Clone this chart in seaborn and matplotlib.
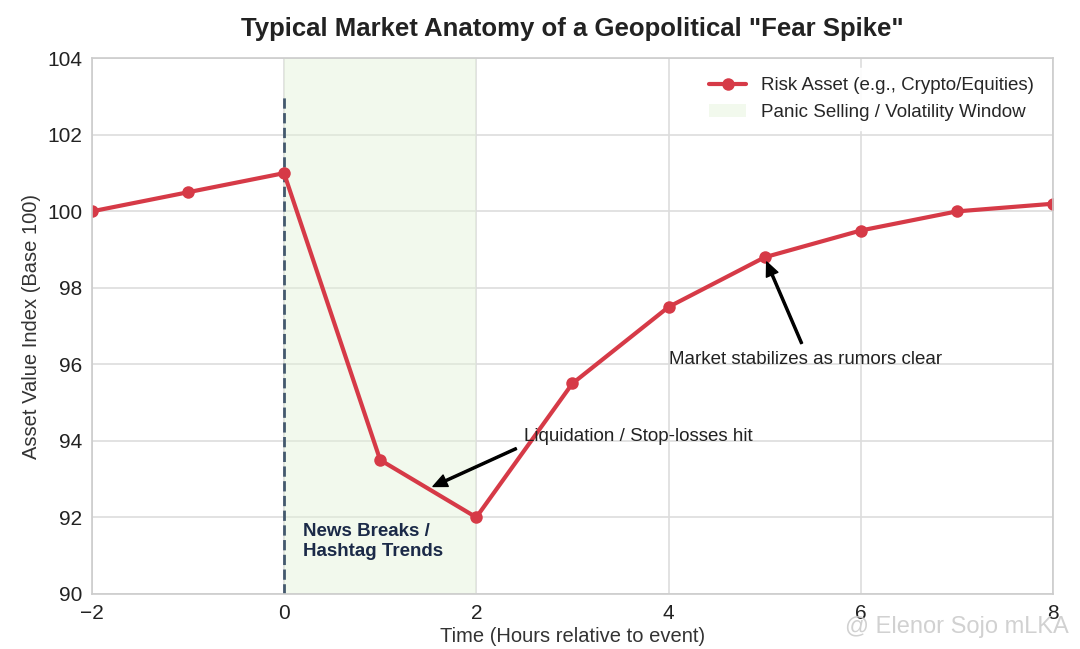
import matplotlib
matplotlib.use("Agg")
import matplotlib.pyplot as plt
import seaborn as sns
import pandas as pd

hours = [-2, -1, 0, 1, 2, 3, 4, 5, 6, 7, 8]
asset_value = [100, 100.5, 101, 93.5, 92, 95.5, 97.5, 98.8, 99.5, 100, 100.2]
x_ticks = [-2, 0, 2, 4, 6, 8]
y_ticks = [90, 92, 94, 96, 98, 100, 102, 104]

sns.set_theme(style="whitegrid")
plt.rcParams['font.family'] = ['Liberation Sans', 'DejaVu Sans']

df = pd.DataFrame({"hours": hours, "value": asset_value})

fig, ax = plt.subplots(figsize=(10.8, 6.49), dpi=100)
fig.subplots_adjust(left=0.085, right=0.975, top=0.91, bottom=0.085)

ax.axvspan(0, 2, color="#e3f2d9", alpha=0.45, label="Panic Selling / Volatility Window", lw=0)
ax.axvline(0, ymin=0, ymax=13/14, color="#44596e", ls="--", lw=2)
sns.lineplot(data=df, x="hours", y="value", ax=ax, color="#d63a47", lw=3,
             marker="o", markersize=9, markeredgewidth=0,
             label="Risk Asset (e.g., Crypto/Equities)")

ax.annotate("Liquidation / Stop-losses hit", xy=(1.5, 92.75), xytext=(2.5, 94),
            fontsize=13.5, color="#222222",
            arrowprops=dict(facecolor="black", edgecolor="black", shrink=0.05,
                            width=1.5, headwidth=9, headlength=10))
ax.annotate("Market stabilizes as rumors clear", xy=(5, 98.8), xytext=(4, 96),
            fontsize=13.5, color="#222222",
            arrowprops=dict(facecolor="black", edgecolor="black", shrink=0.05,
                            width=1.5, headwidth=9, headlength=10))
ax.text(0.2, 91, "News Breaks /\nHashtag Trends", fontsize=13.5, fontweight="bold",
        color="#1b2a48")

ax.set_xlim(-2, 8)
ax.set_ylim(90, 104)
ax.set_xticks(x_ticks)
ax.set_yticks(y_ticks)
ax.tick_params(labelsize=15, colors="#222222", pad=1)
ax.set_xlabel("Time (Hours relative to event)", fontsize=14.5, color="#333333", labelpad=3)
ax.set_ylabel("Asset Value Index (Base 100)", fontsize=14.5, color="#333333", labelpad=4)
ax.set_title('Typical Market Anatomy of a Geopolitical "Fear Spike"', fontsize=18.5,
             fontweight="bold", color="#222222", pad=16)
ax.set_facecolor("white")
ax.grid(color="#dddddd", lw=1.2)
for s in ax.spines.values():
    s.set_color("#cccccc")
    s.set_linewidth(1.2)

handles, labels = ax.get_legend_handles_labels()
order = [labels.index("Risk Asset (e.g., Crypto/Equities)"), labels.index("Panic Selling / Volatility Window")]
ax.legend([handles[i] for i in order], [labels[i] for i in order], loc="upper right",
          fontsize=13.5, frameon=True, facecolor="white", edgecolor="white",
          framealpha=0.9, borderpad=0.5)

fig.text(0.99, 0.034, "@ Elenor Sojo mLKA", ha="right", va="center", fontsize=17,
         color="#cccccc", alpha=0.9)

fig.savefig("out.png", dpi=100)
